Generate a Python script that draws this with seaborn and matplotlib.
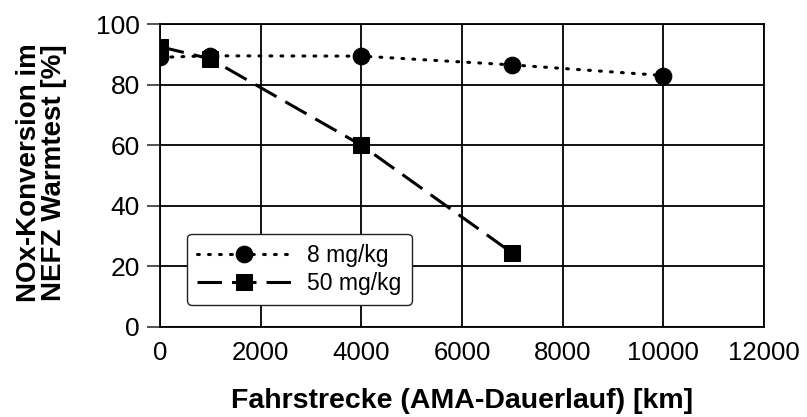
import matplotlib
matplotlib.use("Agg")
import matplotlib.pyplot as plt
import seaborn as sns
import pandas as pd

km_8 = [0, 1000, 4000, 7000, 10000]
conv_8 = [89.0, 89.5, 89.4, 86.5, 83.0]
km_50 = [0, 1000, 4000, 7000]
conv_50 = [92.5, 88.5, 60.0, 24.4]
series_labels = ["8 mg/kg", "50 mg/kg"]
x_ticks = [0, 2000, 4000, 6000, 8000, 10000, 12000]
y_ticks = [0, 20, 40, 60, 80, 100]

sns.set_theme(style="ticks")
plt.rcParams['font.family'] = ['Liberation Sans', 'DejaVu Sans']
plt.rcParams['text.color'] = 'black'
plt.rcParams['axes.labelcolor'] = 'black'
plt.rcParams['xtick.color'] = 'black'
plt.rcParams['ytick.color'] = 'black'

df8 = pd.DataFrame({"km": km_8, "conv": conv_8})
df50 = pd.DataFrame({"km": km_50, "conv": conv_50})

fig = plt.figure(figsize=(8.07, 4.17), dpi=100)
ax = fig.add_axes([160/807, 1-327/417, (764-160)/807, (327-24)/417])

sns.lineplot(data=df8, x="km", y="conv", ax=ax, color="black", lw=2.2,
             marker="o", markersize=12, markeredgecolor="black",
             label=series_labels[0], zorder=3)
ax.lines[-1].set_linestyle((0, (0.6, 3.0)))
ax.lines[-1].set_dash_capstyle("round")
sns.lineplot(data=df50, x="km", y="conv", ax=ax, color="black", lw=2.2,
             marker="s", markersize=12, markeredgecolor="black",
             label=series_labels[1], zorder=4)
ax.lines[-1].set_linestyle((0, (8, 3.3)))

ax.set_xlim(0, 12000)
ax.set_ylim(0, 100)
ax.set_xticks(x_ticks)
ax.set_yticks(y_ticks)
ax.grid(True, color="black", lw=1.3)
for s in ax.spines.values():
    s.set_visible(True)
    s.set_color("black")
    s.set_linewidth(1.3)
ax.tick_params(axis="y", length=9.5, width=1.2, color="#333333", labelsize=19, pad=5,
               direction="out", left=True, labelcolor="black")
ax.tick_params(axis="x", length=0, labelsize=18.5, pad=10, labelcolor="black")

ax.set_xlabel("Fahrstrecke (AMA-Dauerlauf) [km]", fontsize=20.5, fontweight="bold",
              labelpad=17, color="black")
ax.set_ylabel("NOx-Konversion im\nNEFZ Warmtest [%]", fontsize=20, fontweight="bold",
              linespacing=0.95, color="black")
ax.yaxis.set_label_coords(-0.154, 0.51)

leg = ax.legend(loc="lower left", bbox_to_anchor=((187-160)/604, (327-305)/303), fontsize=16.5,
                frameon=True, fancybox=True, edgecolor="#222222", framealpha=1,
                handlelength=4.1, handletextpad=0.7, borderpad=0.45, labelspacing=0.2,
                borderaxespad=0)
leg.get_frame().set_linewidth(1.0)
for t in leg.get_texts():
    t.set_color("black")

fig.savefig("out.png", dpi=100)
